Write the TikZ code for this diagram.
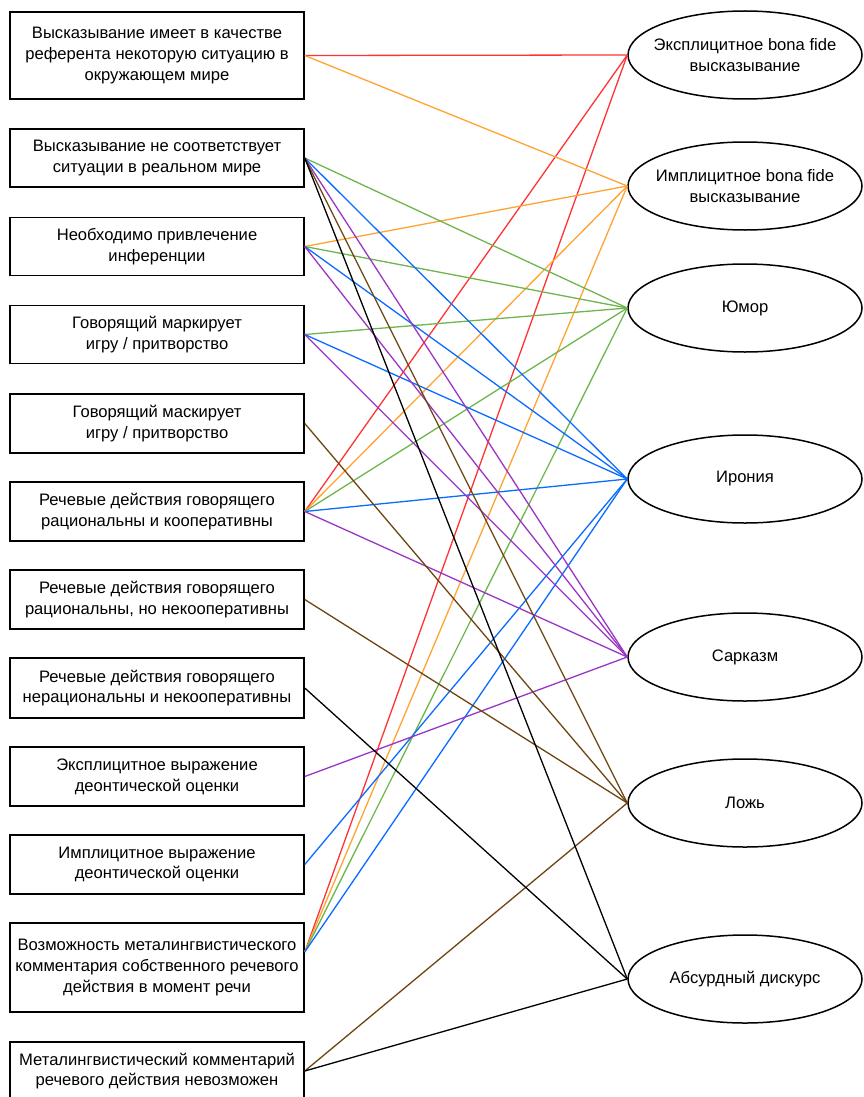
\documentclass[tikz,border=0pt]{standalone}
\usepackage{fontspec}
\setmainfont{Liberation Sans}
\usetikzlibrary{shapes.geometric}
\definecolor{lred}{HTML}{FF3333}
\definecolor{lorange}{HTML}{FFA333}
\definecolor{lgreen}{HTML}{6DB54C}
\definecolor{lblue}{HTML}{0A6CFF}
\definecolor{lpurple}{HTML}{9A35C4}
\definecolor{lbrown}{HTML}{6E4412}
\begin{document}
\begin{tikzpicture}[x=1pt,y=-1pt,
  feat/.style={draw,line width=1.5pt,rectangle,minimum width=294pt,align=center,inner sep=0pt,
    font=\fontsize{16.6}{20.8}\selectfont},
  genre/.style={draw,line width=1.5pt,ellipse,minimum width=234pt,minimum height=88pt,align=center,
    inner xsep=-16pt,inner ysep=0pt,font=\fontsize{16.6}{20.8}\selectfont},
  link/.style={line width=1.3pt}]
\useasboundingbox (0,0) rectangle (863,1097);

\node[feat,minimum height=87pt] (b1) at (157,55.5) {Высказывание имеет в качестве\\референта некоторую ситуацию в\\окружающем мире};
\node[feat,minimum height=58pt] (b2) at (157,158) {Высказывание не соответствует\\ситуации в реальном мире};
\node[feat,minimum height=58pt] (b3) at (157,246.5) {Необходимо привлечение\\инференции};
\node[feat,minimum height=58pt] (b4) at (157,334.5) {Говорящий маркирует\\игру / притворство};
\node[feat,minimum height=59pt] (b5) at (157,423.5) {Говорящий маскирует\\игру / притворство};
\node[feat,minimum height=59pt] (b6) at (157,511.5) {Речевые действия говорящего\\рациональны и кооперативны};
\node[feat,minimum height=59pt] (b7) at (157,599.5) {Речевые действия говорящего\\рациональны, но некооперативны};
\node[feat,minimum height=60pt] (b8) at (157,688) {Речевые действия говорящего\\нерациональны и некооперативны};
\node[feat,minimum height=59pt] (b9) at (157,776.5) {Эксплицитное выражение\\деонтической оценки};
\node[feat,minimum height=59pt] (b10) at (157,864.5) {Имплицитное выражение\\деонтической оценки};
\node[feat,minimum height=89pt] (b11) at (157,967.5) {Возможность металингвистического\\комментария собственного речевого\\действия в момент речи};
\node[feat,minimum height=58pt] (b12) at (157,1071) {Металингвистический комментарий\\речевого действия невозможен};
\coordinate (b11p) at ([yshift=15.5pt]b11.east);

\node[genre] (e1) at (745,55) {Эксплицитное bona fide\\высказывание};
\node[genre] (e2) at (745,186) {Имплицитное bona fide\\высказывание};
\node[genre] (e3) at (745,308) {Юмор};
\node[genre] (e4) at (745,479) {Ирония};
\node[genre] (e5) at (745,657) {Сарказм};
\node[genre] (e6) at (745,803) {Ложь};
\node[genre] (e7) at (745,979) {Абсурдный дискурс};

\draw[link,lred] (b1.east) -- (e1.west);
\draw[link,lred] (b6.east) -- (e1.west);
\draw[link,lred] (b11p) -- (e1.west);
\draw[link,lorange] (b1.east) -- (e2.west);
\draw[link,lorange] (b3.east) -- (e2.west);
\draw[link,lorange] (b6.east) -- (e2.west);
\draw[link,lorange] (b11p) -- (e2.west);
\draw[link,lgreen] (b2.east) -- (e3.west);
\draw[link,lgreen] (b3.east) -- (e3.west);
\draw[link,lgreen] (b4.east) -- (e3.west);
\draw[link,lgreen] (b6.east) -- (e3.west);
\draw[link,lgreen] (b11p) -- (e3.west);
\draw[link,lblue] (b2.east) -- (e4.west);
\draw[link,lblue] (b3.east) -- (e4.west);
\draw[link,lblue] (b4.east) -- (e4.west);
\draw[link,lblue] (b6.east) -- (e4.west);
\draw[link,lblue] (b10.east) -- (e4.west);
\draw[link,lblue] (b11p) -- (e4.west);
\draw[link,lpurple] (b2.east) -- (e5.west);
\draw[link,lpurple] (b3.east) -- (e5.west);
\draw[link,lpurple] (b4.east) -- (e5.west);
\draw[link,lpurple] (b6.east) -- (e5.west);
\draw[link,lpurple] (b9.east) -- (e5.west);
\draw[link,lbrown] (b2.east) -- (e6.west);
\draw[link,lbrown] (b5.east) -- (e6.west);
\draw[link,lbrown] (b7.east) -- (e6.west);
\draw[link,lbrown] (b12.east) -- (e6.west);
\draw[link,black] (b2.east) -- (e7.west);
\draw[link,black] (b8.east) -- (e7.west);
\draw[link,black] (b12.east) -- (e7.west);
\end{tikzpicture}
\end{document}
